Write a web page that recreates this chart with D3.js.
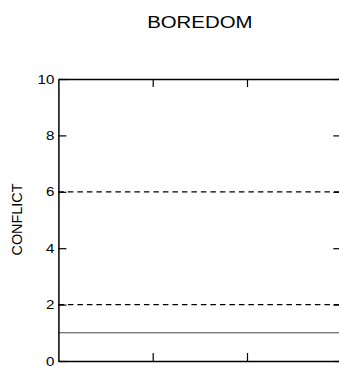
<!doctype html>
<html lang="en">
<head>
	<meta charset="UTF-8">
	<title>Boredom</title>
	<style type="text/css">
	body{ margin: 0; background: #fff; }
	svg text{ font-family: "Liberation Sans", Arial, sans-serif; fill: #000; }
	</style>
	<script type="text/javascript" src="https://cdn.jsdelivr.net/npm/d3@7"></script>
</head>
<body>
	<script type="text/javascript">
		// chart data
		var title = 'BOREDOM';
		var yLabel = 'CONFLICT';
		var xDomain = [0, 3];
		var xTicks = [1, 2];
		var yDomain = [0, 10];
		var yTicks = [0, 2, 4, 6, 8, 10];
		var solidLevels = [1];
		var dashedLevels = [2, 6];

		var w = 339, h = 366;
		// plot edges (note: "top" is taken by window.top)
		var plotLeft = 58.4, plotTop = 79, plotRight = 341.3, plotBottom = 361;
		var stretch = 1.2;

		var svg = d3.select('body')
					.append('svg')
					.attr('width', w)
					.attr('height', h);

		var x = d3.scaleLinear().domain(xDomain).range([plotLeft, plotRight]);
		var y = d3.scaleLinear().domain(yDomain).range([plotBottom, plotTop]);

		// reference lines
		svg.selectAll('line.solid')
		   .data(solidLevels)
		   .enter()
		   .append('line')
		   .attr('class', 'solid')
		   .attr('x1', x(xDomain[0]))
		   .attr('x2', x(xDomain[1]))
		   .attr('y1', function(d){ return y(d); })
		   .attr('y2', function(d){ return y(d); })
		   .attr('stroke', '#444')
		   .attr('stroke-width', 1);

		svg.selectAll('line.dashed')
		   .data(dashedLevels)
		   .enter()
		   .append('line')
		   .attr('class', 'dashed')
		   .attr('x1', x(xDomain[0]))
		   .attr('x2', x(xDomain[1]))
		   .attr('y1', function(d){ return y(d); })
		   .attr('y2', function(d){ return y(d); })
		   .attr('stroke', '#000')
		   .attr('stroke-width', 1.3)
		   .attr('stroke-dasharray', '5.5,4');

		// axes, ticks pointing inward
		function styleAxis(g){
			g.select('.domain').attr('stroke', '#000').attr('stroke-width', 1.5);
			g.selectAll('.tick line').attr('stroke', '#000').attr('stroke-width', 1.2);
		}

		var leftAxis = svg.append('g')
			.attr('transform', 'translate(' + plotLeft + ',0)')
			.call(d3.axisLeft(y).tickValues(yTicks).tickSize(-8).tickPadding(0).tickSizeOuter(0));
		styleAxis(leftAxis);
		leftAxis.selectAll('.tick text')
			.attr('x', -4 / stretch)
			.attr('font-size', '12.6px')
			.attr('font-family', '"Liberation Sans", Arial, sans-serif')
			.attr('transform', 'scale(' + stretch + ',1)');

		var rightAxis = svg.append('g')
			.attr('transform', 'translate(' + plotRight + ',0)')
			.call(d3.axisRight(y).tickValues(yTicks).tickSize(-8).tickFormat('').tickSizeOuter(0));
		styleAxis(rightAxis);

		var topAxis = svg.append('g')
			.attr('transform', 'translate(0,' + plotTop + ')')
			.call(d3.axisTop(x).tickValues(xTicks).tickSize(-8).tickFormat('').tickSizeOuter(0));
		styleAxis(topAxis);

		var bottomAxis = svg.append('g')
			.attr('transform', 'translate(0,' + plotBottom + ')')
			.call(d3.axisBottom(x).tickValues(xTicks).tickSize(-8).tickFormat('').tickSizeOuter(0));
		styleAxis(bottomAxis);

		// title
		svg.append('text')
		   .attr('x', ((plotLeft + plotRight) / 2) / stretch)
		   .attr('y', 28.3)
		   .attr('transform', 'scale(' + stretch + ',1)')
		   .attr('text-anchor', 'middle')
		   .attr('font-size', '17px')
		   .text(title);

		// y label
		svg.append('text')
		   .attr('transform', 'translate(22.3,' + ((plotTop + plotBottom) / 2 - 0.5) + ') rotate(-90)')
		   .attr('text-anchor', 'middle')
		   .attr('font-size', '14.4px')
		   .text(yLabel);
	</script>
</body>
</html>
